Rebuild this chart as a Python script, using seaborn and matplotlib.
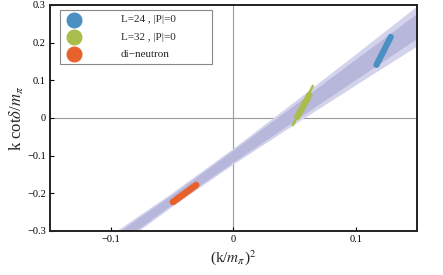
import numpy as np
import pandas as pd
import matplotlib
matplotlib.use("Agg")
import matplotlib.pyplot as plt
from matplotlib.patches import Rectangle
import seaborn as sns

sns.set_theme(style="white")
plt.rcParams['font.family'] = ['Liberation Serif', 'DejaVu Serif']
plt.rcParams['mathtext.fontset'] = 'stix'

# Fit band
band_x = [-0.15, -0.10, -0.05, 0.0, 0.05, 0.10, 0.15]
band_center = [-0.448, -0.333, -0.218, -0.103, 0.012, 0.127, 0.242]
outer_half = [0.028, 0.022, 0.018, 0.021, 0.030, 0.041, 0.053]
inner_half = [0.020, 0.016, 0.013, 0.016, 0.021, 0.027, 0.033]

# Data blobs (endpoints of elongated error regions)
series = ["L=24 , |P|=0", "L=32 , |P|=0", "di\u2212neutron"]
colors = ["#4a90c2", "#a9bd4c", "#e8612c"]
blue_x = [0.117, 0.1286]
blue_y = [0.141, 0.215]
green_x = [0.0523, 0.0621]
green_y = [0.0035, 0.061]
green_thin_x = [0.0485, 0.0649]
green_thin_y = [-0.019, 0.085]
red_x = [-0.0495, -0.0305]
red_y = [-0.223, -0.178]

xticks = [-0.1, 0, 0.1]
xticklabels = ["\u22120.1", "0", "0.1"]
yticks = [-0.3, -0.2, -0.1, 0, 0.1, 0.2, 0.3]
yticklabels = ["\u22120.3", "\u22120.2", "\u22120.1", "0", "0.1", "0.2", "0.3"]

fig = plt.figure(figsize=(4.43, 2.75), dpi=100)
ax = fig.add_axes([0.113, 0.16, 0.828, 0.822])

bx = np.array(band_x)
bc = np.array(band_center)
ax.fill_between(bx, bc - np.array(outer_half), bc + np.array(outer_half),
                color="#d3d3ec", lw=0, zorder=1)
ax.fill_between(bx, bc - np.array(inner_half), bc + np.array(inner_half),
                color="#b7b7db", lw=0, zorder=2)

ax.axhline(0, color="#9a9a9a", lw=0.8, zorder=0)
ax.axvline(0, color="#9a9a9a", lw=0.8, zorder=0)

def seg(x, y, color, lw):
    df = pd.DataFrame({"x": x, "y": y})
    sns.lineplot(data=df, x="x", y="y", ax=ax, color=color, lw=lw,
                 solid_capstyle="round", zorder=5, sort=False)

seg(blue_x, blue_y, colors[0], 4.5)
seg(green_thin_x, green_thin_y, colors[1], 1.8)
seg(green_x, green_y, colors[1], 4.6)
seg(red_x, red_y, colors[2], 4.8)

ax.set_xlim(-0.15, 0.15)
ax.set_ylim(-0.3, 0.3)
ax.set_xticks(xticks)
ax.set_xticklabels(xticklabels)
ax.set_yticks(yticks)
ax.set_yticklabels(yticklabels)
ax.tick_params(direction="in", length=3, width=0.8, labelsize=7.5, pad=3,
               bottom=True, left=True, top=False, right=False, colors="black")
for s in ax.spines.values():
    s.set_color("#222222")
    s.set_linewidth(1.4)

ax.set_xlabel(r"(k/$m_\pi$)$^2$", fontsize=11, labelpad=3)
ax.set_ylabel(r"k cot$\delta$/$m_\pi$", fontsize=12, labelpad=1)

# Legend drawn in axes coordinates
ax.add_patch(Rectangle((0.027, 0.739), 0.414, 0.239, transform=ax.transAxes,
                       facecolor="white", edgecolor="#888888", lw=0.8, zorder=8))
rows_y = [0.934, 0.858, 0.783]
for lab, c, yy in zip(series, colors, rows_y):
    ax.plot([0.065], [yy], marker="o", ls="", color=c, markersize=10.5,
            transform=ax.transAxes, zorder=9, clip_on=False)
    ax.text(0.193, yy, lab, transform=ax.transAxes, fontsize=8,
            va="center", ha="left", zorder=9)

fig.savefig("out.png", dpi=100)
